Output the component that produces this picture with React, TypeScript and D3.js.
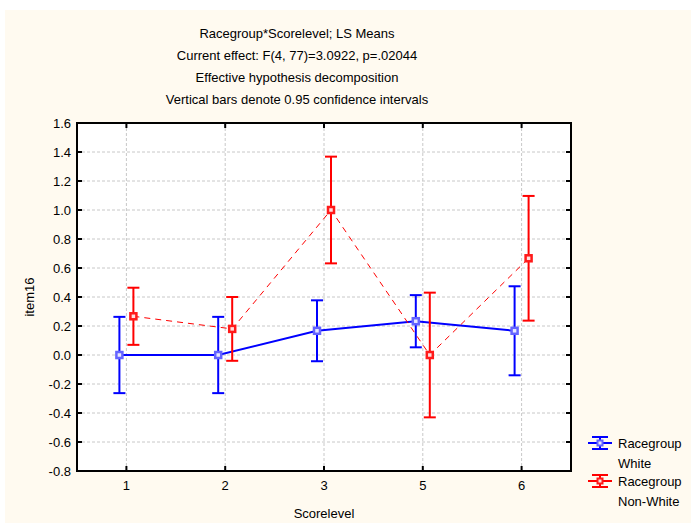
import React from "react";
import * as d3 from "d3";

const categories = ["1", "2", "3", "5", "6"];
const whiteMeans = [0.0, 0.0, 0.167, 0.233, 0.167];
const whiteErr = [0.263, 0.263, 0.21, 0.18, 0.307];
const nonWhiteMeans = [0.267, 0.18, 1.0, 0.0, 0.667];
const nonWhiteErr = [0.197, 0.22, 0.368, 0.43, 0.43];
const yTicks = [-0.8, -0.6, -0.4, -0.2, 0.0, 0.2, 0.4, 0.6, 0.8, 1.0, 1.2, 1.4, 1.6];
const titleLines = [
  "Racegroup*Scorelevel; LS Means",
  "Current effect: F(4, 77)=3.0922, p=.02044",
  "Effective hypothesis decomposition",
  "Vertical bars denote 0.95 confidence intervals",
];

const W = 691;
const H = 523;
const left = 77, right = 571, top = 123, bottom = 471;
const font = "Liberation Sans, Arial, sans-serif";

export default function App() {
  const x = d3.scaleBand<string>().domain(categories).range([left, right]);
  const y = d3.scaleLinear().domain([-0.8, 1.6]).range([bottom, top]);
  const cx = (c: string) => (x(c) as number) + x.bandwidth() / 2;

  const series = [
    { means: whiteMeans, err: whiteErr, color: "#0000ff", mark: "#6464ff", inner: "#e8e8ff", off: -7, dash: undefined as string | undefined, width: 2 },
    { means: nonWhiteMeans, err: nonWhiteErr, color: "#ff0000", mark: "#ff1a1a", inner: "#ffe0e0", off: 7, dash: "6,5", width: 1 },
  ];

  const line = d3.line<[number, number]>().x((d) => d[0]).y((d) => d[1]);

  return (
    <svg width={W} height={H} style={{ position: "absolute", left: 0, top: 0 }} fontFamily={font}>
      <rect x={0} y={0} width={W} height={H} fill="#ffffff" />
      <rect x={5} y={10} width={W - 5} height={H - 10} fill="#fffaf0" />
      {titleLines.map((t, i) => (
        <text key={i} x={297} y={38 + i * 22} textAnchor="middle" fontSize={13} fill="#000">
          {t}
        </text>
      ))}
      <rect x={left} y={top} width={right - left} height={bottom - top} fill="#ffffff" />
      {/* grid */}
      {yTicks.map((v) => (
        <line key={"gy" + v} x1={left} x2={right} y1={y(v)} y2={y(v)} stroke="#c8c8c8" strokeDasharray="3,2" />
      ))}
      {categories.map((c) => (
        <line key={"gx" + c} x1={cx(c)} x2={cx(c)} y1={top} y2={bottom} stroke="#c8c8c8" strokeDasharray="3,2" />
      ))}
      {/* frame */}
      <rect x={left} y={top} width={right - left} height={bottom - top} fill="none" stroke="#000" strokeWidth={2} />
      {yTicks.map((v) => (
        <g key={"ty" + v}>
          <line x1={left} x2={left + 5} y1={y(v)} y2={y(v)} stroke="#000" strokeWidth={2} />
          <line x1={right - 5} x2={right} y1={y(v)} y2={y(v)} stroke="#000" strokeWidth={2} />
          <text x={left - 6} y={y(v) + 4.5} textAnchor="end" fontSize={13} fill="#000">
            {d3.format(".1f")(v).replace("−", "-")}
          </text>
        </g>
      ))}
      {categories.map((c) => (
        <g key={"tx" + c}>
          <line x1={cx(c)} x2={cx(c)} y1={top} y2={top + 5} stroke="#000" strokeWidth={2} />
          <line x1={cx(c)} x2={cx(c)} y1={bottom - 5} y2={bottom} stroke="#000" strokeWidth={2} />
          <text x={cx(c)} y={bottom + 19} textAnchor="middle" fontSize={13} fill="#000">
            {c}
          </text>
        </g>
      ))}
      <text x={(left + right) / 2} y={518} textAnchor="middle" fontSize={13} fill="#000">
        Scorelevel
      </text>
      <text transform={`translate(34,${(top + bottom) / 2}) rotate(-90)`} textAnchor="middle" fontSize={13} fill="#000">
        item16
      </text>
      {/* series */}
      {series.map((s, si) => {
        const pts: [number, number][] = categories.map((c, i) => [cx(c) + s.off, y(s.means[i])]);
        return (
          <g key={"s" + si}>
            <path d={line(pts) as string} fill="none" stroke={s.color} strokeWidth={s.width} strokeDasharray={s.dash} />
            {categories.map((c, i) => {
              const px = cx(c) + s.off;
              const y1 = y(s.means[i] + s.err[i]);
              const y2 = y(s.means[i] - s.err[i]);
              return (
                <g key={"e" + i}>
                  <line x1={px} x2={px} y1={y1} y2={y2} stroke={s.color} strokeWidth={2} />
                  <line x1={px - 6} x2={px + 6} y1={y1} y2={y1} stroke={s.color} strokeWidth={2} />
                  <line x1={px - 6} x2={px + 6} y1={y2} y2={y2} stroke={s.color} strokeWidth={2} />
                  <rect x={px - 3} y={y(s.means[i]) - 3} width={6} height={6} fill={s.inner} stroke={s.mark} strokeWidth={2.5} />
                </g>
              );
            })}
          </g>
        );
      })}
      {/* legend */}
      {series.map((s, si) => {
        const ly = 443 + si * 38;
        return (
          <g key={"l" + si}>
            <line x1={588} x2={612} y1={ly} y2={ly} stroke={s.color} strokeWidth={2} />
            <line x1={600} x2={600} y1={ly - 6} y2={ly + 6} stroke={s.color} strokeWidth={2} />
            <line x1={592} x2={608} y1={ly - 6} y2={ly - 6} stroke={s.color} strokeWidth={2} />
            <line x1={592} x2={608} y1={ly + 6} y2={ly + 6} stroke={s.color} strokeWidth={2} />
            <rect x={597.5} y={ly - 2.5} width={5} height={5} fill={s.inner} stroke={s.mark} strokeWidth={2} />
            <text x={618} y={ly + 5} fontSize={13} fill="#000">Racegroup</text>
            <text x={618} y={ly + 25} fontSize={13} fill="#000">{si === 0 ? "White" : "Non-White"}</text>
          </g>
        );
      })}
    </svg>
  );
}
